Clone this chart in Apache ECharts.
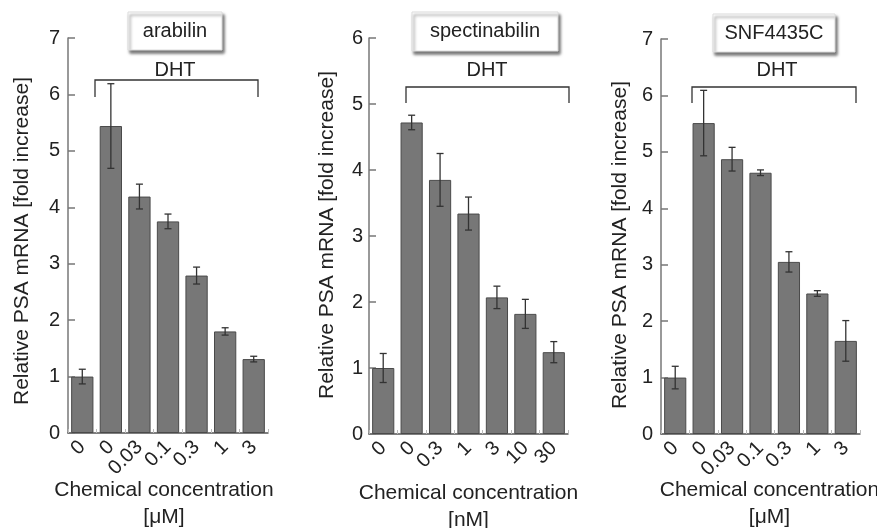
<!DOCTYPE html>
<html>
<head>
<meta charset="utf-8">
<script src="https://cdn.jsdelivr.net/npm/echarts@6/dist/echarts.min.js"></script>
<style>
  html, body { margin: 0; padding: 0; background: #fff; }
  #chart { width: 877px; height: 528px; }
</style>
</head>
<body>
<div id="chart"></div>
<script>
// PSA mRNA bar panels — arabilin / spectinabilin / SNF4435C
var FONT = '"Liberation Sans", Arial, Helvetica, sans-serif';

var titles = ['arabilin', 'spectinabilin', 'SNF4435C'];
var units = ['[μM]', '[nM]', '[μM]'];

var catsArabilin = ['0', '0', '0.03', '0.1', '0.3', '1', '3'];
var catsSpectin = ['0', '0', '0.3', '1', '3', '10', '30'];
var catsSnf = ['0', '0', '0.03', '0.1', '0.3', '1', '3'];

var meanArabilin = [1.0, 5.44, 4.19, 3.75, 2.79, 1.80, 1.31];
var errArabilin = [0.13, 0.75, 0.22, 0.13, 0.15, 0.065, 0.05];

var meanSpectin = [1.0, 4.72, 3.85, 3.34, 2.07, 1.82, 1.24];
var errSpectin = [0.22, 0.11, 0.40, 0.25, 0.17, 0.22, 0.16];

var meanSnf = [1.0, 5.51, 4.87, 4.63, 3.05, 2.49, 1.65];
var errSnf = [0.20, 0.58, 0.21, 0.05, 0.18, 0.05, 0.36];

var yMax = [7, 6, 7];

var cats = [catsArabilin, catsSpectin, catsSnf];
var means = [meanArabilin, meanSpectin, meanSnf];
var errs = [errArabilin, errSpectin, errSnf];

// layout
var grids = [
  { left: 68, top: 38, width: 200, height: 395, outerBoundsMode: 'none' },
  { left: 369, top: 38, width: 199, height: 396, outerBoundsMode: 'none' },
  { left: 661, top: 39, width: 199, height: 395, outerBoundsMode: 'none' }
];
var yNameGap = [35, 31, 30];
var yNamePad = [[0, 11, 0, 0], [0, 0, 0, 2], [0, 17, 0, 0]];
var yLabelMargin = [8, 6, 8];
var xNameGap = [44, 46, 43];
var xNamePad = [[0, 8, 0, 0], [0, 0, 0, 0], [0, 0, 0, 18]];

var chart = echarts.init(document.getElementById('chart'), null, { renderer: 'canvas' });

var xAxes = [], yAxes = [], series = [], graphics = [];

grids.forEach(function (g, i) {
  xAxes.push({
    type: 'category',
    gridIndex: i,
    data: cats[i],
    name: 'Chemical concentration\n' + units[i],
    nameLocation: 'middle',
    nameGap: xNameGap[i],
    nameMoveOverlap: false,
    nameTextStyle: { fontFamily: FONT, fontSize: 21, color: '#222', lineHeight: 27, padding: xNamePad[i] },
    axisLine: { lineStyle: { color: '#555', width: 1.5 } },
    axisTick: { show: true, inside: true, length: 4, lineStyle: { color: '#bbb' } },
    axisLabel: { rotate: 45, fontFamily: FONT, fontSize: 20, color: '#222', margin: 11, interval: 0 }
  });
  yAxes.push({
    type: 'value',
    gridIndex: i,
    min: 0,
    max: yMax[i],
    interval: 1,
    name: 'Relative PSA mRNA [fold increase]',
    nameLocation: 'middle',
    nameGap: yNameGap[i],
    nameMoveOverlap: false,
    nameTextStyle: { fontFamily: FONT, fontSize: 21, color: '#222', padding: yNamePad[i] },
    axisLine: { show: true, lineStyle: { color: '#777', width: 1.5 } },
    axisTick: { show: true, inside: true, length: 7, lineStyle: { color: '#777', width: 1.5 } },
    axisLabel: { fontFamily: FONT, fontSize: 20, color: '#222', margin: yLabelMargin[i] },
    splitLine: { show: false }
  });
  series.push({
    type: 'bar',
    xAxisIndex: i,
    yAxisIndex: i,
    data: means[i],
    barCategoryGap: '22%',
    itemStyle: { color: '#777', borderColor: '#4a4a4a', borderWidth: 1 },
    silent: true
  });
  series.push({
    type: 'custom',
    xAxisIndex: i,
    yAxisIndex: i,
    data: means[i].map(function (m, k) { return [k, m - errs[i][k], m + errs[i][k]]; }),
    renderItem: function (params, api) {
      var lo = api.coord([api.value(0), api.value(1)]);
      var hi = api.coord([api.value(0), api.value(2)]);
      var cw = 3.5;
      var st = { stroke: '#333', lineWidth: 1.3 };
      return {
        type: 'group',
        children: [
          { type: 'line', shape: { x1: hi[0], y1: hi[1], x2: lo[0], y2: lo[1] }, style: st },
          { type: 'line', shape: { x1: hi[0] - cw, y1: hi[1], x2: hi[0] + cw, y2: hi[1] }, style: st },
          { type: 'line', shape: { x1: lo[0] - cw, y1: lo[1], x2: lo[0] + cw, y2: lo[1] }, style: st }
        ]
      };
    },
    z: 5,
    silent: true
  });
});

// title boxes
var boxes = [
  { x: 128, y: 12, w: 94, h: 38 },
  { x: 412, y: 12, w: 146, h: 39 },
  { x: 713, y: 14, w: 122, h: 38 }
];
boxes.forEach(function (b, i) {
  graphics.push({
    type: 'rect',
    shape: { x: b.x, y: b.y, width: b.w, height: b.h },
    style: { fill: '#fff', stroke: '#ddd', lineWidth: 1, shadowBlur: 3, shadowOffsetX: 2, shadowOffsetY: 3, shadowColor: 'rgba(0,0,0,0.55)' },
    z: 10
  });
  graphics.push({
    type: 'text',
    x: b.x + b.w / 2, y: b.y + b.h / 2,
    style: { text: titles[i], font: '20px ' + FONT, fill: '#222', align: 'center', verticalAlign: 'middle' },
    z: 11
  });
});

// DHT brackets
var brackets = [
  { x1: 95, x2: 258, y: 80, d: 17, tx: 175 },
  { x1: 406, x2: 569, y: 87, d: 16, tx: 487 },
  { x1: 692, x2: 856, y: 87, d: 16, tx: 777 }
];
brackets.forEach(function (b) {
  graphics.push({
    type: 'polyline',
    shape: { points: [[b.x1, b.y + b.d], [b.x1, b.y], [b.x2, b.y], [b.x2, b.y + b.d]] },
    style: { stroke: '#333', lineWidth: 1.3, fill: null },
    z: 10
  });
  graphics.push({
    type: 'text',
    x: b.tx, y: 70,
    style: { text: 'DHT', font: '20px ' + FONT, fill: '#222', align: 'center', verticalAlign: 'middle' },
    z: 11
  });
});

chart.setOption({
  animation: false,
  backgroundColor: '#fff',
  grid: grids,
  xAxis: xAxes,
  yAxis: yAxes,
  series: series,
  graphic: graphics
});
</script>
</body>
</html>
